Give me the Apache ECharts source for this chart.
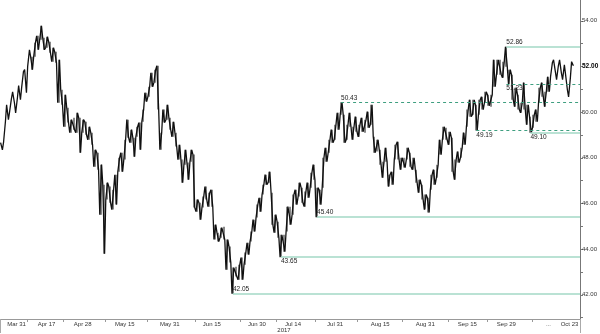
<!DOCTYPE html>
<html><head><meta charset="utf-8">
<script src="https://cdn.jsdelivr.net/npm/echarts@6/dist/echarts.min.js"></script>
<style>html,body{margin:0;padding:0;background:#fff}#c{width:600px;height:334px}</style>
</head><body><div id="c"></div>
<script>
// Price range of each period (low / high), left to right
const lows = [
48.35,48.70,49.67,50.02,50.41,49.97,50.54,51.07,50.85,51.99,
51.86,52.42,52.73,53.17,52.73,52.82,52.60,52.21,52.16,50.41,
50.32,49.36,49.54,49.10,49.23,49.10,48.22,49.10,49.01,48.79,
48.57,47.61,47.48,45.51,43.80,46.17,46.03,45.73,45.95,47.39,
47.39,47.92,48.88,48.66,48.05,48.92,48.35,49.58,50.46,50.67,
51.11,51.29,50.11,48.35,49.54,49.67,49.23,48.92,48.49,47.92,
46.91,47.70,47.04,47.83,45.82,45.64,45.29,45.82,46.17,45.86,
45.86,44.42,44.33,44.50,44.42,43.10,43.41,42.05,42.80,42.66,
42.66,43.32,43.76,44.33,44.77,45.38,45.64,46.39,46.82,46.91,
45.07,44.72,44.50,43.65,43.89,44.77,45.07,45.51,45.95,46.30,
46.03,45.86,46.25,46.69,47.04,45.40,45.95,46.69,47.83,48.22,
48.66,48.79,49.23,49.89,48.66,48.79,49.36,48.79,49.14,48.92,
49.14,49.10,49.32,49.45,48.22,48.27,47.70,47.13,47.83,46.74,
46.82,47.92,47.92,47.48,47.57,47.92,47.61,47.48,46.91,46.47,
46.17,45.73,45.60,46.60,46.82,47.13,48.14,48.79,48.79,48.57,
47.39,47.04,47.79,48.00,48.57,49.36,49.80,49.89,49.19,49.89,
50.11,50.41,50.28,50.24,51.11,51.64,51.64,51.51,51.99,51.23,
50.54,50.24,50.11,49.97,50.11,49.45,49.10,49.32,49.58,50.41,
50.67,50.24,50.89,51.55,51.77,51.42,51.72,51.42,50.98,50.67,
52.03
];
const highs = [
48.66,49.58,50.32,50.59,50.89,50.63,51.16,51.77,51.86,52.73,
52.42,53.04,53.34,53.78,53.26,53.30,53.08,52.82,52.64,52.29,
50.98,50.76,50.19,49.67,49.75,49.97,49.75,49.67,49.58,49.36,
49.10,48.35,48.22,47.70,46.82,46.91,46.74,46.60,47.26,48.00,
48.22,48.79,49.67,49.23,48.88,49.36,49.54,50.11,50.85,51.11,
51.72,51.86,52.03,49.10,50.11,50.32,49.75,49.58,49.10,48.57,
47.92,48.35,47.79,48.35,48.14,46.17,46.03,46.30,46.74,46.47,
46.60,45.07,44.72,44.94,44.98,44.42,44.11,43.19,43.23,43.32,
43.63,43.85,44.28,44.77,45.29,45.95,46.25,46.82,47.26,47.39,
46.47,45.51,45.20,44.63,44.63,45.86,45.86,46.39,46.60,46.91,
46.69,46.52,46.91,47.35,47.70,46.69,46.60,48.00,48.44,48.79,
49.23,49.45,49.97,50.43,49.89,49.45,49.97,49.36,49.80,49.45,
49.75,49.67,50.02,50.32,48.92,48.79,48.35,47.83,48.44,47.26,
47.39,48.57,48.70,48.00,48.00,48.44,48.22,48.00,47.48,47.04,
46.82,46.39,46.25,47.26,47.48,47.70,48.79,49.36,49.32,49.14,
48.88,47.92,48.27,48.44,49.10,50.11,50.54,50.54,50.32,50.54,
50.67,50.89,50.76,50.76,52.29,52.29,52.29,52.21,52.86,51.86,
51.64,51.07,50.76,50.41,51.29,50.32,49.80,49.89,50.11,51.07,
51.29,50.89,51.55,52.16,52.29,52.03,52.29,52.07,51.64,51.51,
52.21
];
const slotCount = 193;

// x-axis labels (category index -> text)
const xLabelIdx  = [5, 15, 27, 41, 56, 70, 85, 97, 111, 126, 141, 155, 168, 182, 189];
const xLabelText = ['Mar 31','Apr 17','Apr 28','May 15','May 31','Jun 15','Jun 30','Jul 14','Jul 31','Aug 15','Aug 31','Sep 15','Sep 29','...','Oct 23'];
const xTickIdx   = [9, 21, 35, 49, 65, 80, 92, 105, 119, 134, 149, 162, 177];
const yearIdx = 94, yearText = '2017';
const nowIdx = 189;

// y-axis ticks and labels
const yTickValues  = [41,42,43,44,45,46,47,48,49,50,51,52,53,54];
const yLabelValues = [42,44,46,48,50,52,54];
const yBoldLabel = 52;

// support / resistance levels
const levelValues = [52.86, 51.23, 50.43, 49.19, 49.10, 45.40, 43.65, 42.05];
const levelStart  = [168, 168, 113, 158, 176, 105, 93, 77];
const levelDashed = [false, true, true, true, false, false, false, false];
const levelBelow  = [false, true, false, true, true, false, true, false];

const cats = Array.from({length: slotCount}, (_, i) => String(i));
const FONT = 'Liberation Sans';

// high-low bars of each period
const bars = lows.map((l, i) => [l, highs[i], l, highs[i]]);
// zig-zag through each period's range: the trace alternates between high and low
const trace = [];
lows.forEach((l, i) => {
  const h = highs[i];
  if (i % 2 === 0) { trace.push([i - 0.3, h]); trace.push([i + 0.3, l]); }
  else { trace.push([i - 0.3, l]); trace.push([i + 0.3, h]); }
});

const markData = levelValues.map((v, k) => [
  {
    coord: [levelStart[k], v],
    lineStyle: levelDashed[k]
      ? {color: '#3f9f80', width: 1, type: [3, 3]}
      : {color: '#a3d9c6', width: 1.5, type: 'solid'},
    label: {
      show: true,
      position: levelBelow[k] ? 'insideStartBottom' : 'insideStartTop',
      distance: [0, 1],
      formatter: () => v.toFixed(2),
      fontSize: 6.5, color: '#222', fontFamily: FONT
    }
  },
  {coord: [slotCount - 0.5, v]}
]);

const chart = echarts.init(document.getElementById('c'), null, {renderer: 'canvas'});
chart.setOption({
  animation: false,
  backgroundColor: '#fff',
  grid: {left: 0, right: 20, top: 0, bottom: 15, outerBoundsMode: 'none', containLabel: false},
  xAxis: [{
    type: 'category', data: cats, boundaryGap: true,
    axisLine: {onZero: false, lineStyle: {color: '#999', width: 1}},
    axisTick: {show: true, interval: (i) => xTickIdx.includes(i), length: 3, lineStyle: {color: '#999'}},
    axisLabel: {
      interval: (i) => xLabelIdx.includes(i),
      formatter: (val) => xLabelText[xLabelIdx.indexOf(Number(val))] || '',
      fontSize: 6, color: '#333', margin: 2, fontFamily: FONT, hideOverlap: false
    },
    splitLine: {show: false}
  }, {
    type: 'category', data: cats, boundaryGap: true, position: 'bottom', gridIndex: 0,
    axisLine: {show: false, onZero: false},
    axisTick: {show: true, interval: (i) => i === nowIdx, length: 14, lineStyle: {color: '#aaa'}},
    axisLabel: {
      interval: (i) => i === yearIdx,
      formatter: () => yearText,
      fontSize: 6, color: '#333', margin: 8, fontFamily: FONT
    },
    splitLine: {show: false}
  }, {
    // numeric twin of the category axis, so the trace can place points inside a period
    type: 'value', min: -0.5, max: slotCount - 0.5, show: false, gridIndex: 0,
    axisLine: {onZero: false}, splitLine: {show: false}
  }],
  yAxis: {
    type: 'value', position: 'right', min: 40.94, max: 54.91,
    axisLine: {show: true, onZero: false, lineStyle: {color: '#777'}},
    axisTick: {show: true, customValues: yTickValues, length: 3, lineStyle: {color: '#777'}},
    axisLabel: {
      customValues: yLabelValues,
      formatter: (v) => v === yBoldLabel ? '{b|' + v.toFixed(2) + '}' : v.toFixed(2),
      rich: {b: {fontWeight: 'bold', fontSize: 6.5, color: '#000', fontFamily: FONT}},
      fontSize: 6, color: '#333', margin: 2, fontFamily: FONT
    },
    splitLine: {show: false}
  },
  series: [{
    type: 'line',
    xAxisIndex: 2,
    data: trace,
    symbol: 'none',
    z: 3,
    lineStyle: {color: '#111', width: 1.3},
    markLine: {
      silent: true, symbol: ['none', 'none'], animation: false,
      data: markData
    }
  }, {
    type: 'candlestick',
    xAxisIndex: 0,
    data: bars,
    barWidth: 1.4,
    z: 3,
    itemStyle: {color: '#111', color0: '#111', borderColor: '#111', borderColor0: '#111', borderWidth: 0}
  }]
});
</script>
</body></html>
